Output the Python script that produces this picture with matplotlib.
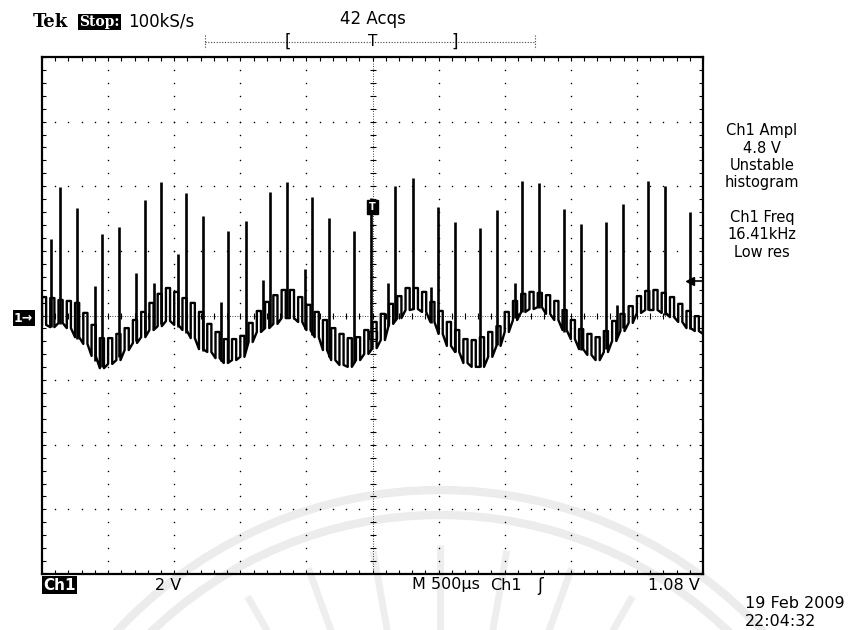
import numpy as np
import matplotlib
matplotlib.use('Agg')
import matplotlib.pyplot as plt
from matplotlib.lines import Line2D
from matplotlib.patches import Arc

W, H = 851, 630

# ripple envelope of Ch1 (volts), one value every 62.5 us across the 5 ms screen
step = 0.0625
ripple_top = [0.57, 0.54, 0.48, 0.45, 0.39, 0.08, -0.29, -0.70, -0.70, -0.57,
              -0.39, -0.14, 0.11, 0.39, 0.67, 0.85, 0.73, 0.54, 0.39, 0.11,
              -0.26, -0.51, -0.73, -0.73, -0.63, -0.23, 0.14, 0.42, 0.63, 0.79,
              0.79, 0.57, 0.33, 0.11, -0.14, -0.39, -0.57, -0.70, -0.67, -0.45,
              -0.20, 0.05, 0.36, 0.60, 0.85, 0.85, 0.73, 0.42, 0.14, -0.20,
              -0.45, -0.73, -0.76, -0.67, -0.51, -0.33, 0.11, 0.45, 0.67, 0.73,
              0.70, 0.63, 0.45, 0.17, -0.14, -0.42, -0.57, -0.67, -0.48, -0.17,
              0.05, 0.29, 0.60, 0.76, 0.79, 0.70, 0.57, 0.36, 0.14, -0.02, -0.14]
ripple_bot = [-0.29, -0.36, -0.23, -0.39, -0.67, -0.88, -1.25, -1.63, -1.50, -1.38,
              -1.07, -0.85, -0.67, -0.45, -0.33, -0.17, -0.29, -0.45, -0.70, -1.04,
              -1.13, -1.32, -1.47, -1.38, -1.28, -0.82, -0.51, -0.39, -0.26, -0.08,
              -0.08, -0.20, -0.45, -0.67, -1.07, -1.38, -1.53, -1.59, -1.38, -1.19,
              -1.01, -0.76, -0.26, -0.08, 0.17, 0.20, 0.11, -0.20, -0.57, -0.94,
              -1.13, -1.47, -1.59, -1.59, -1.28, -0.94, -0.51, -0.14, 0.11, 0.20,
              0.26, 0.05, -0.14, -0.45, -0.73, -1.04, -1.22, -1.38, -1.13, -0.79,
              -0.48, -0.23, 0.08, 0.17, 0.17, 0.08, -0.05, -0.20, -0.39, -0.48, -0.57]

# switching spikes: time (ms) and peak (V)
spike_t = [0.070, 0.136, 0.265, 0.399, 0.454, 0.582, 0.711, 0.777, 0.847, 0.900,
           1.029, 1.089, 1.218, 1.354, 1.407, 1.541, 1.672, 1.725, 1.853, 1.989,
           2.042, 2.171, 2.360, 2.489, 2.617, 2.670, 2.806, 2.942, 2.995, 3.124,
           3.313, 3.442, 3.578, 3.631, 3.759, 3.949, 4.077, 4.266, 4.349, 4.395,
           4.584, 4.713, 4.902]
spike_v = [2.37, 3.98, 3.33, 0.91, 2.52, 2.74, 1.32, 3.58, 1.01, 4.13,
           1.90, 3.79, 3.08, 0.42, 2.62, 2.93, 1.10, 3.82, 4.13, 1.44,
           3.67, 3.02, 2.62, 3.64, 1.01, 4.01, 4.26, 0.88, 3.36, 2.89,
           2.71, 3.27, 1.01, 4.16, 4.10, 3.30, 2.83, 2.89, 0.33, 3.45,
           4.16, 4.01, 3.20]

trig_level = 1.08
trig_marker_v = 3.36
trig_point_v = -0.6

right_lines = ['Ch1 Ampl', '4.8 V', 'Unstable', 'histogram', '',
               'Ch1 Freq', '16.41kHz', 'Low res']


def px(x, y):
    return x / W, 1 - y / H


fig = plt.figure(figsize=(W / 100, H / 100), dpi=100)
fig.patch.set_facecolor('white')

# faint watermark behind everything
bg = fig.add_axes([0, 0, 1, 1], zorder=0)
bg.set_xlim(0, W)
bg.set_ylim(H, 0)
bg.axis('off')
cx, cy = 440, 930
for r in [440, 415]:
    bg.add_patch(Arc((cx, cy), 2 * r, 2 * r, theta1=180, theta2=360,
                     color='#ececec', lw=6))
for ang in np.arange(-130, -49, 10):
    a = np.radians(ang)
    bg.plot([cx + 300 * np.cos(a), cx + 385 * np.cos(a)],
            [cy + 300 * np.sin(a), cy + 385 * np.sin(a)],
            color='#eeeeee', lw=5, solid_capstyle='butt')

ax = fig.add_axes([42 / W, 1 - 574 / H, 661 / W, 517 / H], zorder=1)
ax.set_facecolor('none')
ax.set_xlim(0, 5)
ax.set_ylim(-8, 8)
for s in ax.spines.values():
    s.set_linewidth(1.6)
ax.set_xticks(np.arange(0, 5.01, 0.1))
ax.set_yticks(np.arange(-8, 8.01, 0.4))
ax.tick_params(axis='both', direction='in', length=3, width=0.8,
               top=True, right=True, labelbottom=False, labelleft=False)

# dotted graticule
gy = np.arange(-8, 8.01, 0.4)
gx = np.arange(0, 5.01, 0.1)
for k in range(1, 10):
    if k == 5:
        continue
    ax.scatter(np.full(gy.size, 0.5 * k), gy, s=1.2, color='black', lw=0)
for k in range(-3, 4):
    if k == 0:
        continue
    ax.scatter(gx, np.full(gx.size, 2.0 * k), s=1.2, color='black', lw=0)
ax.plot([2.5, 2.5], [-8, 8], color='black', lw=0.6, ls=(0, (1, 2)))
ax.plot([0, 5], [0, 0], color='black', lw=0.6, ls=(0, (1, 2)))
ax.plot(np.full(gy.size, 2.5), gy, ls='none', marker='_', ms=5, mew=0.8, color='black')
ax.plot(gx, np.zeros(gx.size), ls='none', marker='|', ms=5, mew=0.8, color='black')

# trace
t = np.arange(len(ripple_top)) * step
h = step / 2
xs = np.column_stack([t, t, t + h, t + h]).ravel()
ys = np.column_stack([ripple_bot, ripple_top, ripple_top, ripple_bot]).ravel()
ax.plot(xs, ys, color='black', lw=1.7)
base = np.interp(spike_t, t, ripple_bot)
ax.vlines(spike_t, base, spike_v, color='black', lw=1.9)

# markers on screen
ax.text(2.5, trig_marker_v, 'T', color='white', fontsize=7, fontweight='bold',
        ha='center', va='center',
        bbox=dict(facecolor='black', edgecolor='black', pad=1.2))
ax.plot([2.5], [trig_point_v], marker='s', ms=6, mfc='none', mec='black', mew=1)
ax.plot([4.9, 5.0], [trig_level, trig_level], color='black', lw=1.2)
ax.plot([4.9], [trig_level], marker='<', ms=6, color='black')

# header
fig.text(*px(33, 22), 'Tek', family='DejaVu Serif', fontweight='bold',
         fontsize=13, va='center')
fig.text(*px(79, 22), 'Stop:', family='DejaVu Serif', fontweight='bold',
         fontsize=10, color='white', va='center',
         bbox=dict(facecolor='black', edgecolor='none', pad=1))
fig.text(*px(128, 21), '100kS/s', fontsize=12, va='center')
fig.text(*px(373, 19), '42 Acqs', fontsize=12, va='center', ha='center')
fig.add_artist(Line2D([205 / W, 535 / W], [1 - 42 / H] * 2, color='#444444',
                      lw=0.8, ls=(0, (1, 1.5))))
for xe in [205, 535]:
    fig.add_artist(Line2D([xe / W] * 2, [1 - 35 / H, 1 - 49 / H], color='#444444',
                          lw=0.8, ls=(0, (1, 1.5))))
fig.text(*px(288, 42), '[', fontsize=12, va='center', ha='center')
fig.text(*px(455, 42), ']', fontsize=12, va='center', ha='center')
fig.text(*px(373, 41), 'T', fontsize=11, va='center', ha='center')

# right readouts
for i, line in enumerate(right_lines):
    fig.text(*px(762, 131 + i * 17.3), line, fontsize=10.5, ha='center', va='center')

# channel marker
fig.text(*px(14, 318), '1→', fontsize=9, fontweight='bold', color='white',
         va='center', bbox=dict(facecolor='black', edgecolor='none', pad=1))

# footer
fig.text(*px(43, 585), 'Ch1', fontsize=11, fontweight='bold', color='white',
         va='center', bbox=dict(facecolor='black', edgecolor='none', pad=1))
fig.text(*px(155, 585), '2 V', fontsize=11.5, va='center')
fig.text(*px(412, 585), 'M 500µs', fontsize=11.5, va='center')
fig.text(*px(490, 585), 'Ch1', fontsize=11.5, va='center')
fig.text(*px(540, 586), 'ʃ', fontsize=12, va='center', ha='center')
fig.text(*px(700, 585), '1.08 V', fontsize=11.5, va='center', ha='right')
fig.text(*px(745, 604), '19 Feb 2009', fontsize=11.5, va='center')
fig.text(*px(745, 621), '22:04:32', fontsize=11.5, va='center')

fig.savefig('out.png', dpi=100, facecolor='white')
